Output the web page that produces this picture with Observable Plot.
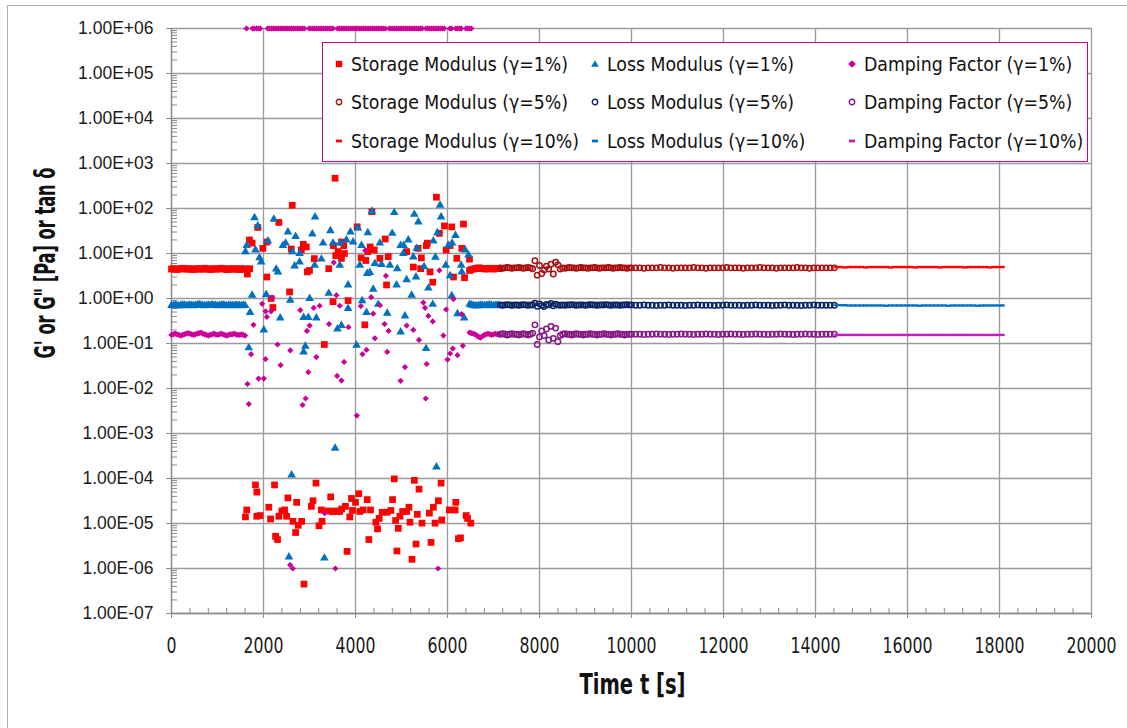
<!DOCTYPE html>
<html><head><meta charset="utf-8">
<script src="https://cdn.jsdelivr.net/npm/d3@7"></script>
<script src="https://cdn.jsdelivr.net/npm/@observablehq/plot@0.6"></script>
<style>
body{margin:0;background:#fff;}
#wrap{position:relative;width:1127px;height:728px;overflow:hidden;background:#fff;}
#frame{position:absolute;left:7px;top:5px;width:1130px;height:730px;border:1px solid #b0b0b0;box-sizing:border-box;}
#chart{position:absolute;left:0;top:0;}
#legend{position:absolute;left:322px;top:42px;width:766px;height:120px;border:1.5px solid #CC0099;box-sizing:border-box;background:#fff;
  font-family:"DejaVu Sans Condensed","Liberation Sans",sans-serif;font-size:20px;color:#111;}
.item{position:absolute;display:flex;align-items:center;white-space:nowrap;height:20px;}
.item svg{margin-right:7px;flex:none;}
.item span{display:inline-block;transform-origin:0 50%;}
</style></head>
<body><div id="wrap"><div id="frame"></div><div id="chart"></div><div id="legend"></div></div>
<script>
// ---------- axis ticks ----------
const xTicks = [0,2000,4000,6000,8000,10000,12000,14000,16000,18000,20000];
const yTicks = [1e-7,1e-6,1e-5,1e-4,1e-3,1e-2,1e-1,1e0,1e1,1e2,1e3,1e4,1e5,1e6];

// ---------- series labels / colours ----------
const seriesNames = [
  "Storage Modulus (γ=1%)","Loss Modulus (γ=1%)","Damping Factor (γ=1%)",
  "Storage Modulus (γ=5%)","Loss Modulus (γ=5%)","Damping Factor (γ=5%)",
  "Storage Modulus (γ=10%)","Loss Modulus (γ=10%)","Damping Factor (γ=10%)"];
const seriesColors = ["#FF0000","#0070C0","#CC0099","#A80F0F","#0A2466","#851A85","#FF0000","#0070C0","#C020C0"];

// ---------- γ=1% : steady part before the disturbance (t = 0..1600 s, every 40 s) ----------
const s1LeftStart = 0, s1LeftStep = 40;
const storage1Left = [4.5,4.6,4.5,4.4,4.5,4.6,4.7,4.6,4.5,4.5,4.6,4.5,4.4,4.5,4.6,4.6,4.5,4.5,4.7,4.6,4.5,4.4,4.5,4.6,4.5,4.5,4.6,4.7,4.6,4.5,4.4,4.5,4.6,4.5,4.5,4.6,4.5,4.4,4.6,4.5,4.5];
const loss1Left = [0.70,0.69,0.71,0.70,0.68,0.70,0.72,0.71,0.69,0.70,0.71,0.70,0.69,0.70,0.72,0.73,0.71,0.70,0.69,0.70,0.71,0.70,0.72,0.71,0.70,0.69,0.70,0.71,0.72,0.70,0.69,0.70,0.71,0.70,0.69,0.71,0.70,0.70,0.69,0.71,0.70];
const damping1Left = [0.155,0.16,0.165,0.16,0.155,0.15,0.155,0.16,0.165,0.17,0.165,0.16,0.155,0.16,0.165,0.17,0.175,0.165,0.16,0.155,0.15,0.155,0.16,0.165,0.16,0.155,0.16,0.165,0.16,0.155,0.15,0.155,0.16,0.16,0.165,0.16,0.155,0.155,0.16,0.155,0.15];

// ---------- γ=1% : steady part after the disturbance (t = 6480..7120 s) ----------
const s1RightStart = 6480, s1RightStep = 40;
const storage1Right = [4.2,4.4,4.5,4.6,4.7,4.8,4.7,4.6,4.6,4.5,4.6,4.7,4.6,4.5,4.6,4.7,4.6];
const loss1Right = [0.74,0.72,0.70,0.69,0.68,0.70,0.71,0.70,0.69,0.70,0.71,0.72,0.70,0.69,0.70,0.71,0.70];
const damping1Right = [0.175,0.17,0.165,0.16,0.15,0.14,0.135,0.145,0.155,0.16,0.165,0.16,0.155,0.16,0.165,0.16,0.16];

// ---------- γ=1% : scattered points [t, value] ----------
const storage1Scatter = [
 [3556,470],[2625,118],[5759,178],[4356,85],[2334,49],[1876,38],[6348,45],[5934,41],[6093,39],[4036,39],
 [1695,20],[1753,17],[2073,18],[1985,13],[2865,16],[2930,14],[2822,12],[3694,18],[3745,15],[4646,21],
 [5562,17],[5824,28],[6057,15],[5970,12],[6311,13],[2603,12.6],[3621,11],[3105,7.7],[3694,7.8],[3760,10],
 [3418,4.6],[2952,3.9],[3000,4.2],[4123,8],[4225,7],[4407,12],[4530,7.8],[4712,8.5],[5112,11],[5257,5],
 [5432,8],[5417,4.6],[5621,3.9],[5679,2.3],[6130,3],[6202,7.8],[6370,2.9],[6478,7.5],[2073,3],[1650,3.5],
 [1700,4.6],[4675,2],[2567,1.4],[3512,0.85],[3839,0.9],[2204,0.63],[2167,1.0],[4203,0.26],[3323,0.095],[3570,9],
 [4320,14],[5540,15],[4270,11],[3520,15],[5360,13],
 [1825,7.2e-5],[1855,5.0e-5],[2240,7.2e-5],[3141,7.9e-5],[4843,9.8e-5],[5279,9.1e-5],[5381,5.8e-5],[5861,7.9e-5],
 [1636,2.0e-5],[1607,1.4e-5],[1855,1.45e-5],[1927,1.5e-5],[2116,2.3e-5],[2153,1.26e-5],[2334,1.45e-5],[2400,1.9e-5],
 [2458,2.0e-5],[2502,1.45e-5],[2531,3.7e-5],[2720,2.95e-5],[2640,1.12e-5],[2756,9.1e-6],[2829,1.12e-5],[2698,6.3e-6],
 [2262,5.2e-6],[2305,4.4e-6],[3040,2.4e-5],[3076,3.2e-5],[3258,2.0e-5],[3403,1.9e-5],[3498,1.85e-5],[3658,1.85e-5],
 [3781,2.4e-5],[3461,3.9e-5],[3207,8.9e-6],[3272,1.12e-5],[3876,1.4e-5],[3912,3.6e-5],[3999,2.95e-5],[4072,4.6e-5],
 [3934,1.95e-5],[4094,1.85e-5],[4167,2.0e-5],[4326,2.0e-5],[4254,3.4e-5],[4443,1.07e-5],[4515,1.3e-5],[4479,7.6e-6],
 [4581,1.78e-5],[4690,1.78e-5],[4770,1.95e-5],[4806,3.4e-5],[4872,1.17e-5],[4930,7.8e-6],[4966,1.45e-5],[5024,1.85e-5],
 [5112,1.85e-5],[5162,2.3e-5],[5184,1.07e-5],[5344,1.6e-5],[5446,1.02e-5],[5606,1.7e-5],[5693,2.3e-5],[5802,3.2e-5],
 [5730,1.02e-5],[5875,1.2e-5],[6042,2.0e-5],[6166,2.0e-5],[6180,2.95e-5],[6406,1.5e-5],[6435,1.3e-5],[6507,1.02e-5],
 [6238,4.6e-6],[6282,4.8e-6],[4290,4.4e-6],[3818,2.4e-6],[4901,2.45e-6],[5315,3.5e-6],[5642,3.8e-6],[5228,1.6e-6],
 [2880,4.5e-7],[3520,1.85e-5],[3560,1.9e-5],[3600,1.85e-5],[3700,2.1e-5]
];
const loss1Scatter = [
 [1804,62],[1876,41],[2225,58],[3120,65],[4356,87],[4843,81],[5279,74],[5366,50],[5839,118],[5861,65],
 [2531,30],[2698,24],[3061,27],[3454,32],[3890,30],[4050,37],[4268,29],[4799,28],[5148,20],[5781,29],
 [6173,25],[1607,11],[1636,15],[1825,12],[2094,19],[2422,15],[2480,17],[2625,11],[2785,10],[3294,17],
 [3512,17],[3665,17],[3803,20],[3948,18],[4130,15],[4530,17],[4981,15],[5046,15],[5330,13],[5693,19],
 [6020,15],[6100,17],[6384,12],[6456,9.2],[1913,8],[1949,6.5],[2276,4.5],[2313,3.9],[2676,5.3],[2785,6.5],
 [3112,5.5],[3258,7.5],[3658,5.5],[4094,5.5],[4312,3.8],[4421,6],[4566,5.7],[4748,5.5],[4908,4.6],[5039,10],
 [5257,8.4],[5490,5.1],[5737,8.3],[5962,5.5],[6057,3.2],[6311,3.9],[6297,5.5],[3839,2.0],[4385,1.6],[4893,2.0],
 [5112,2.6],[5315,3.0],[5584,1.7],[4254,3.6],[1753,1.18],[2058,1.23],[2582,0.91],[3003,1.0],[3418,1.3],[3839,0.60],
 [4145,0.89],[4494,0.74],[4690,0.47],[5075,0.41],[5221,1.18],[5679,0.74],[6093,1.15],[1709,0.49],[2363,0.37],[2872,0.38],
 [2974,0.38],[3149,0.37],[3694,0.25],[3607,0.21],[4239,0.49],[4981,0.18],[6217,0.46],[6362,0.37],[2007,0.20],[1680,0.080],
 [2872,0.065],[2909,0.087],[4022,0.091],[5534,0.077],
 [3556,4.7e-4],[2611,1.2e-4],[5759,1.8e-4],[2553,1.8e-6],[3323,1.7e-6]
];
const damping1Scatter = [
 [4210,11.7],[3527,6.3],[4661,3.2],[5824,4.2],[2189,1.05],[1971,0.76],[3585,1.18],[4341,1.07],[4530,0.71],[3658,0.69],
 [3221,0.69],[3091,0.62],[2800,0.55],[4116,0.68],[5475,0.81],[5512,0.62],[5970,0.57],[6130,0.97],[2044,0.52],[2073,0.39],
 [2167,0.52],[4385,0.46],[5584,0.41],[5679,0.31],[1782,0.26],[2945,0.19],[3003,0.25],[3425,0.27],[3847,0.23],[4632,0.27],
 [4719,0.19],[5112,0.25],[5257,0.20],[6311,0.45],[5911,0.15],[5381,0.12],[4421,0.13],[1731,0.058],[2305,0.095],[2582,0.070],
 [2044,0.045],[3149,0.050],[4152,0.058],[4239,0.072],[4690,0.065],[6000,0.044],[6057,0.060],[6115,0.077],[6217,0.055],[6333,0.089],
 [2371,0.033],[3752,0.039],[5075,0.030],[5548,0.035],[1651,0.0126],[1891,0.0166],[2007,0.0166],[2974,0.023],[3600,0.019],[3694,0.015],
 [4981,0.0148],[1680,0.0045],[2916,0.006],[2850,0.0043],[5526,0.006],[4029,0.0025],
 [3330,1.7e-5],[2578,1.2e-6],[2636,1.0e-6],[3563,1.0e-6],[5795,1.0e-6]
];
// damping factor points at the top of the scale (1.00E+06)
const dampingTopTimes = [1630,1760,1800,1850,1890,1930,2090,2130,2170,2210,2250,2290,2330,2370,2410,2450,2490,2530,2570,2610,
 2650,2690,2730,2770,2810,2850,2890,2990,3030,3070,3110,3150,3190,3230,3270,3310,3350,3390,3430,3470,3510,
 3610,3650,3690,3730,3770,3810,3850,3890,3930,3970,4010,4050,4090,4130,4170,4210,4250,4290,4330,4370,4410,4450,4490,4530,4570,4610,4650,
 4730,4770,4810,4850,4890,4930,4970,5010,5050,5090,5130,5170,5210,5250,5290,5330,5370,5410,5450,
 5530,5570,5610,5650,5690,5730,5770,5810,5850,5890,5930,6050,6090,6180,6220,6260,6300,6400,6440,6480,6520];
const dampingTopValue = 1e6;

// ---------- γ=5% : dense part (t = 7150..10000 s, every 50 s) ----------
const s5DenseStart = 7150, s5DenseStep = 50;
const storage5Dense = [4.8,4.7,4.8,4.9,4.8,4.7,4.8,4.8,4.9,4.8,4.7,4.8,4.9,4.8,
 4.6,6.9,3.3,5.4,3.6,4.3,5.2,4.5,5.8,3.5,6.4,5.6,4.5,
 4.8,4.7,4.8,4.9,4.8,4.8,4.7,4.8,4.9,4.8,4.8,4.7,4.8,4.8,4.9,4.8,4.7,4.8,4.8,4.8,4.9,4.8,4.7,4.8,4.8,4.9,4.8,4.8,4.7,4.8,4.8];
const loss5Dense = [0.72,0.71,0.72,0.73,0.72,0.71,0.72,0.72,0.71,0.72,0.73,0.72,0.71,0.72,
 0.72,0.79,0.67,0.76,0.70,0.66,0.74,0.72,0.78,0.69,0.75,0.72,0.71,
 0.72,0.71,0.72,0.72,0.73,0.72,0.71,0.72,0.72,0.72,0.71,0.72,0.73,0.72,0.72,0.71,0.72,0.72,0.72,0.73,0.72,0.71,0.72,0.72,0.72,0.71,0.72,0.72,0.73,0.72,0.72];
const damping5Dense = [0.16,0.165,0.16,0.155,0.16,0.165,0.16,0.16,0.155,0.16,0.165,0.16,0.155,0.16,
 0.17,0.26,0.095,0.14,0.19,0.15,0.21,0.12,0.24,0.13,0.22,0.11,0.15,
 0.16,0.165,0.16,0.16,0.155,0.16,0.165,0.16,0.16,0.155,0.16,0.16,0.165,0.16,0.16,0.155,0.16,0.16,0.165,0.16,0.16,0.155,0.16,0.16,0.165,0.16,0.16,0.155,0.16,0.16,0.16];

// ---------- γ=5% : sparse part (t = 10090..14410 s, every 90 s) ----------
const s5SparseStart = 10090, s5SparseStep = 90;
const storage5Sparse = [4.8,4.8,4.7,4.8,4.8,4.8,4.9,4.8,4.8,4.7,4.8,4.8,4.8,4.8,4.9,4.8,4.8,4.7,4.8,4.8,4.8,4.8,4.9,4.8,4.8,4.8,4.7,4.8,4.8,4.8,4.9,4.8,4.8,4.8,4.7,4.8,4.8,4.8,4.8,4.9,4.8,4.8,4.7,4.8,4.8,4.8,4.8,4.8,4.8];
const loss5Sparse = [0.71,0.71,0.72,0.71,0.71,0.70,0.71,0.71,0.72,0.71,0.71,0.71,0.70,0.71,0.71,0.72,0.71,0.71,0.71,0.70,0.71,0.71,0.72,0.71,0.71,0.71,0.70,0.71,0.71,0.72,0.71,0.71,0.71,0.70,0.71,0.71,0.72,0.71,0.71,0.71,0.70,0.71,0.71,0.72,0.71,0.71,0.71,0.71,0.71];
const damping5Sparse = [0.16,0.16,0.158,0.16,0.16,0.162,0.16,0.16,0.158,0.16,0.16,0.162,0.16,0.16,0.158,0.16,0.16,0.162,0.16,0.16,0.158,0.16,0.16,0.162,0.16,0.16,0.158,0.16,0.16,0.162,0.16,0.16,0.158,0.16,0.16,0.162,0.16,0.16,0.158,0.16,0.16,0.162,0.16,0.16,0.158,0.16,0.16,0.16,0.16];

// ---------- γ=10% (t = 14460..18060 s, every 90 s) ----------
const s10Start = 14460, s10Step = 90;
const storage10 = [5.0,5.0,4.9,5.0,5.0,5.0,5.0,4.9,5.0,5.0,5.0,5.0,5.0,4.9,5.0,5.0,5.0,5.0,5.0,4.9,5.0,5.0,5.0,5.0,5.0,4.9,5.0,5.0,5.0,5.0,5.0,4.9,5.0,5.0,5.0,5.0,5.0,4.9,5.0,5.0,5.0];
const loss10 = [0.72,0.71,0.71,0.70,0.70,0.70,0.70,0.70,0.70,0.70,0.70,0.70,0.69,0.70,0.70,0.70,0.70,0.70,0.70,0.70,0.69,0.70,0.70,0.70,0.70,0.70,0.70,0.69,0.70,0.70,0.70,0.70,0.70,0.70,0.69,0.70,0.70,0.70,0.70,0.70,0.70];
const damping10 = [0.155,0.155,0.155,0.155,0.155,0.155,0.155,0.155,0.155,0.155,0.155,0.155,0.155,0.155,0.155,0.155,0.155,0.155,0.155,0.155,0.155,0.155,0.155,0.155,0.155,0.155,0.155,0.155,0.155,0.155,0.155,0.155,0.155,0.155,0.155,0.155,0.155,0.155,0.155,0.155,0.155];

// ---------- build tables ----------
const seq = (start, step, vals) => vals.map((v, i) => ({t: start + i * step, v}));
const pairs = arr => arr.map(([t, v]) => ({t, v}));
const storage1 = [...seq(s1LeftStart, s1LeftStep, storage1Left), ...pairs(storage1Scatter), ...seq(s1RightStart, s1RightStep, storage1Right)];
const loss1 = [...seq(s1LeftStart, s1LeftStep, loss1Left), ...pairs(loss1Scatter), ...seq(s1RightStart, s1RightStep, loss1Right)];
const damping1 = [...seq(s1LeftStart, s1LeftStep, damping1Left), ...pairs(damping1Scatter),
  ...dampingTopTimes.map(t => ({t, v: dampingTopValue})), ...seq(s1RightStart, s1RightStep, damping1Right)];
const storage5 = [...seq(s5DenseStart, s5DenseStep, storage5Dense), ...seq(s5SparseStart, s5SparseStep, storage5Sparse)];
const loss5 = [...seq(s5DenseStart, s5DenseStep, loss5Dense), ...seq(s5SparseStart, s5SparseStep, loss5Sparse)];
const damping5 = [...seq(s5DenseStart, s5DenseStep, damping5Dense), ...seq(s5SparseStart, s5SparseStep, damping5Sparse)];
const st10 = seq(s10Start, s10Step, storage10), lo10 = seq(s10Start, s10Step, loss10), da10 = seq(s10Start, s10Step, damping10);

// ---------- layout ----------
const W = 1127, H = 728, ML = 171, MR = 36, MT = 28, MB = 115;
const PW = W - ML - MR, PH = H - MT - MB;
const minorY = yTicks.slice(0, -1).flatMap(d => [2,3,4,5,6,7,8,9].map(k => k * d));
const minorX = d3.range(0, 20001, 400).filter(d => d % 2000 !== 0);
const fmtE = d => { const e = Math.round(Math.log10(d)); return "1.00E" + (e < 0 ? "-" : "+") + String(Math.abs(e)).padStart(2, "0"); };
const narrow = "'DejaVu Sans Condensed','Liberation Sans',sans-serif";
const dashSym = {draw(ctx) { ctx.rect(-2.5, -1.2, 5, 2.4); }};
const grid = "#9a9a9a";
const yTitle = "G' or G\" [Pa] or tan δ", xTitle = "Time t [s]";

const xy = {x: "t", y: "v"};
const chart = Plot.plot({
  width: W, height: H, marginLeft: ML, marginRight: MR, marginTop: MT, marginBottom: MB,
  style: {fontFamily: "'Liberation Sans',Arial,sans-serif", background: "transparent", overflow: "visible"},
  x: {domain: [0, 20000], axis: null},
  y: {type: "log", domain: [1e-7, 1e6], axis: null},
  marks: [
    Plot.gridX(xTicks, {stroke: grid, strokeOpacity: 1, strokeWidth: 1.3}),
    Plot.gridY(yTicks, {stroke: grid, strokeOpacity: 1, strokeWidth: 1.3}),
    Plot.ruleX([0], {stroke: "#8a8a8a", strokeWidth: 1.3}),
    Plot.ruleY([1e-7], {stroke: "#8a8a8a", strokeWidth: 1.3}),
    Plot.tickY(minorY, {y: d => d, insetRight: PW - 6, stroke: "#8a8a8a", strokeWidth: 1}),
    Plot.tickX(minorX, {x: d => d, insetTop: PH - 5, stroke: "#8a8a8a", strokeWidth: 1}),
    Plot.axisY(yTicks, {tickSize: 5, tickPadding: 13, tickFormat: fmtE, fontSize: 17.5, stroke: "#8a8a8a", fill: "#1a1a1a", label: null}),
    Plot.axisX(xTicks, {tickSize: 5, tickPadding: 20, tickFormat: d => String(d), fontSize: 20.5, fontFamily: narrow, stroke: "#8a8a8a", fill: "#1a1a1a", label: null}),
    Plot.text([yTitle], {frameAnchor: "left", textAnchor: "middle", dx: -125, dy: -58, rotate: -90, fontSize: 28, fontWeight: "bold", fontFamily: narrow, fill: "#111"}),
    Plot.text([xTitle], {frameAnchor: "bottom", textAnchor: "middle", dx: 1, dy: 80, fontSize: 28, fontWeight: "bold", fontFamily: narrow, fill: "#111"}),
    // γ=1%
    Plot.dot(storage1, {...xy, symbol: "square", r: 3.8, fill: seriesColors[0], stroke: "none"}),
    Plot.dot(loss1, {...xy, symbol: "triangle", r: 3.2, fill: seriesColors[1], stroke: "none"}),
    Plot.dot(damping1, {...xy, symbol: "diamond2", r: 2.8, fill: seriesColors[2], stroke: "none"}),
    // γ=5%
    Plot.dot(storage5, {...xy, r: 2.7, fill: "none", stroke: seriesColors[3], strokeWidth: 1.5}),
    Plot.dot(loss5, {...xy, r: 2.7, fill: "none", stroke: seriesColors[4], strokeWidth: 1.5}),
    Plot.dot(damping5, {...xy, r: 2.7, fill: "none", stroke: seriesColors[5], strokeWidth: 1.5}),
    // γ=10%
    Plot.dot(st10, {...xy, symbol: dashSym, fill: seriesColors[6], stroke: "none"}),
    Plot.dot(lo10, {...xy, symbol: dashSym, fill: seriesColors[7], stroke: "none"}),
    Plot.dot(da10, {...xy, symbol: dashSym, fill: seriesColors[8], stroke: "none"})
  ]
});
document.getElementById("chart").append(chart);

// squeeze condensed texts to the narrow width of the reference font
const setLen = (node, len) => { node.setAttribute("textLength", len.toFixed(1)); node.setAttribute("lengthAdjust", "spacingAndGlyphs"); };
const xLabelNodes = d3.select(chart).selectAll('g[aria-label="x-axis tick label"] text').nodes();
if (xLabelNodes.length) {
  const factor = 50 / xLabelNodes[xLabelNodes.length - 1].getComputedTextLength();
  xLabelNodes.forEach(n => setLen(n, n.getComputedTextLength() * factor));
}
d3.select(chart).selectAll("text").each(function () {
  if (this.textContent === yTitle) setLen(this, 191);
  if (this.textContent === xTitle) setLen(this, 106);
});

// ---------- legend ----------
const markerSvg = (i) => {
  const c = seriesColors[i], kind = Math.floor(i / 3), col = i % 3;
  let shape;
  if (kind === 0) {
    if (col === 0) shape = `<rect x="1.8" y="1.8" width="6.4" height="6.4" fill="${c}"/>`;
    else if (col === 1) shape = `<path d="M5,1.3 L8.8,7.8 L1.2,7.8 Z" fill="${c}"/>`;
    else shape = `<path d="M5,1.2 L8.8,5 L5,8.8 L1.2,5 Z" fill="${c}"/>`;
  } else if (kind === 1) {
    shape = `<circle cx="5" cy="5" r="2.7" fill="none" stroke="${c}" stroke-width="1.4"/>`;
  } else {
    shape = `<rect x="2" y="3.6" width="6" height="2.8" fill="${c}"/>`;
  }
  return `<svg width="10" height="10" viewBox="0 0 10 10">${shape}</svg>`;
};
const legendCols = [10.5, 266.5, 523.5], legendRows = [10.5, 49.2, 88.2];
const legend = document.getElementById("legend");
const spans = [];
seriesNames.forEach((name, i) => {
  const d = document.createElement("div");
  d.className = "item";
  d.style.left = legendCols[i % 3] + "px";
  d.style.top = legendRows[Math.floor(i / 3)] + "px";
  d.innerHTML = markerSvg(i) + `<span>${name}</span>`;
  legend.append(d);
  spans.push(d.querySelector("span"));
});
const f = 217 / spans[0].getBoundingClientRect().width;
spans.forEach(s => s.style.transform = `scaleX(${f.toFixed(3)})`);
</script></body></html>
